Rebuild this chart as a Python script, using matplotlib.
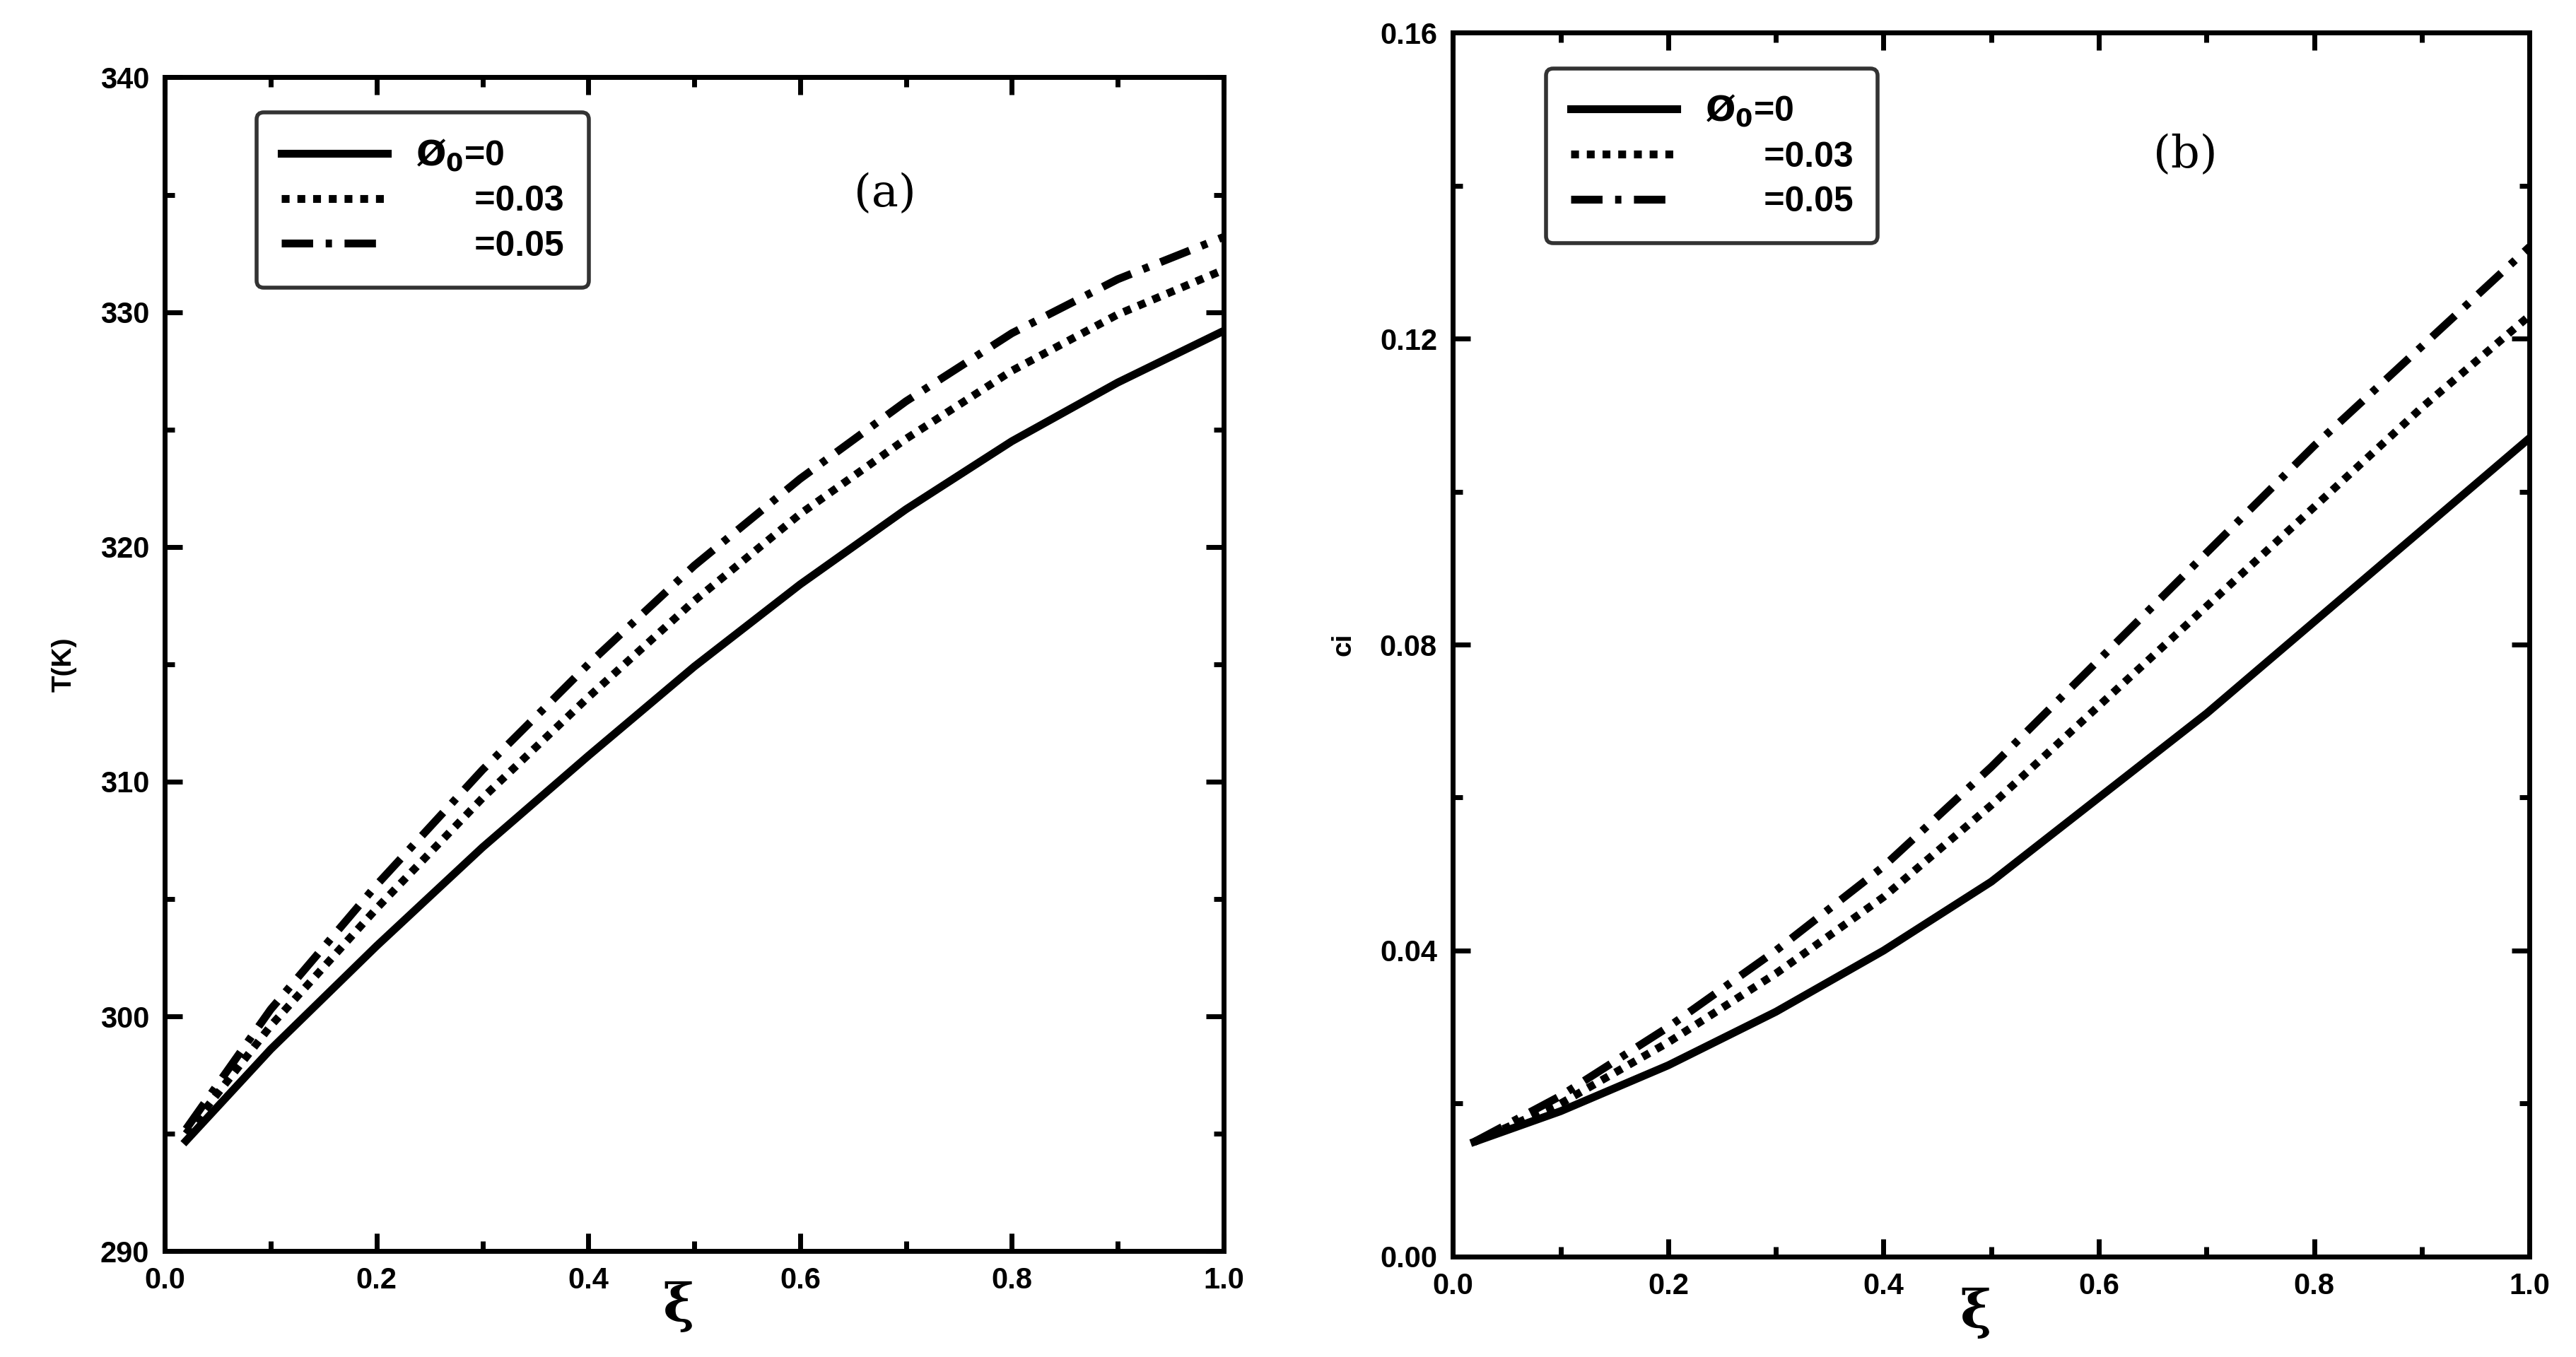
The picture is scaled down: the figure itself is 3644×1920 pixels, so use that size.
import matplotlib
matplotlib.use("Agg")
import matplotlib.pyplot as plt
from matplotlib.ticker import MultipleLocator

xi = [0.02, 0.1, 0.2, 0.3, 0.4, 0.5, 0.6, 0.7, 0.8, 0.9, 1.0]
T_0 = [294.7, 298.6, 303.0, 307.2, 311.1, 314.9, 318.4, 321.6, 324.5, 327.0, 329.2]
T_003 = [295.0, 299.6, 304.6, 309.3, 313.6, 317.7, 321.4, 324.6, 327.5, 329.9, 331.8]
T_005 = [295.2, 300.3, 305.6, 310.5, 315.0, 319.2, 322.9, 326.2, 329.1, 331.4, 333.2]
c_0 = [0.015, 0.019, 0.025, 0.032, 0.040, 0.049, 0.060, 0.071, 0.083, 0.095, 0.107]
c_003 = [0.015, 0.020, 0.028, 0.037, 0.047, 0.059, 0.072, 0.085, 0.098, 0.111, 0.123]
c_005 = [0.015, 0.021, 0.030, 0.040, 0.051, 0.064, 0.078, 0.092, 0.106, 0.119, 0.132]
labels = [r"$\mathbf{Ø}_\mathbf{0}$=0", "      =0.03", "      =0.05"]

plt.rcParams['font.family'] = ['Liberation Sans', 'DejaVu Sans']
fig = plt.figure(figsize=(36.44, 19.2), dpi=100)
axA = fig.add_axes([0.064, 0.078, 0.411, 0.865])
axB = fig.add_axes([0.564, 0.074, 0.418, 0.902])

styles = [dict(ls='-'), dict(ls=(0, (1.0, 1.0))), dict(ls=(0, (4, 1.6, 0.8, 1.6)))]
for ax, ys, yl, ylim, maj, mn, fmt, tag in [
        (axA, [T_0, T_003, T_005], "T(K)", (290, 340), 10, 5, "{:.0f}", "(a)"),
        (axB, [c_0, c_003, c_005], "ci", (0, 0.16), 0.04, 0.02, "{:.2f}", "(b)")]:
    for y, st, lab in zip(ys, styles, labels):
        ax.plot(xi, y, color='black', lw=8, label=lab, **st)
    ax.set_xlim(0, 1)
    ax.set_ylim(*ylim)
    ax.xaxis.set_major_locator(MultipleLocator(0.2))
    ax.xaxis.set_minor_locator(MultipleLocator(0.1))
    ax.yaxis.set_major_locator(MultipleLocator(maj))
    ax.yaxis.set_minor_locator(MultipleLocator(mn))
    ax.set_yticklabels([fmt.format(v) for v in ax.get_yticks()], fontweight='bold')
    ax.set_xticklabels(["{:.1f}".format(v) for v in ax.get_xticks()], fontweight='bold')
    ax.tick_params(which='both', direction='in', top=True, right=True, width=5, labelsize=30, pad=16)
    ax.tick_params(which='major', length=18)
    ax.tick_params(which='minor', length=10)
    for s in ax.spines.values():
        s.set_linewidth(5)
    ax.set_ylabel(yl, fontsize=28, fontweight='bold', labelpad=24)
    ax.text(0.5, -0.025, "ξ", transform=ax.transAxes, fontsize=54, ha='right', va='top',
            family='DejaVu Serif', fontweight='bold')
    ax.text(0.68, 0.89, tag, transform=ax.transAxes, fontsize=46, family='DejaVu Serif', ha='center')
    leg = ax.legend(loc='upper left', bbox_to_anchor=(0.07, 0.985), fontsize=36, handlelength=3.0,
                    frameon=True, fancybox=True, edgecolor='black', borderpad=0.7, labelspacing=0.35,
                    prop={'weight': 'bold', 'size': 36})
    leg.get_frame().set_linewidth(4)

fig.savefig("out.png", dpi=100)
